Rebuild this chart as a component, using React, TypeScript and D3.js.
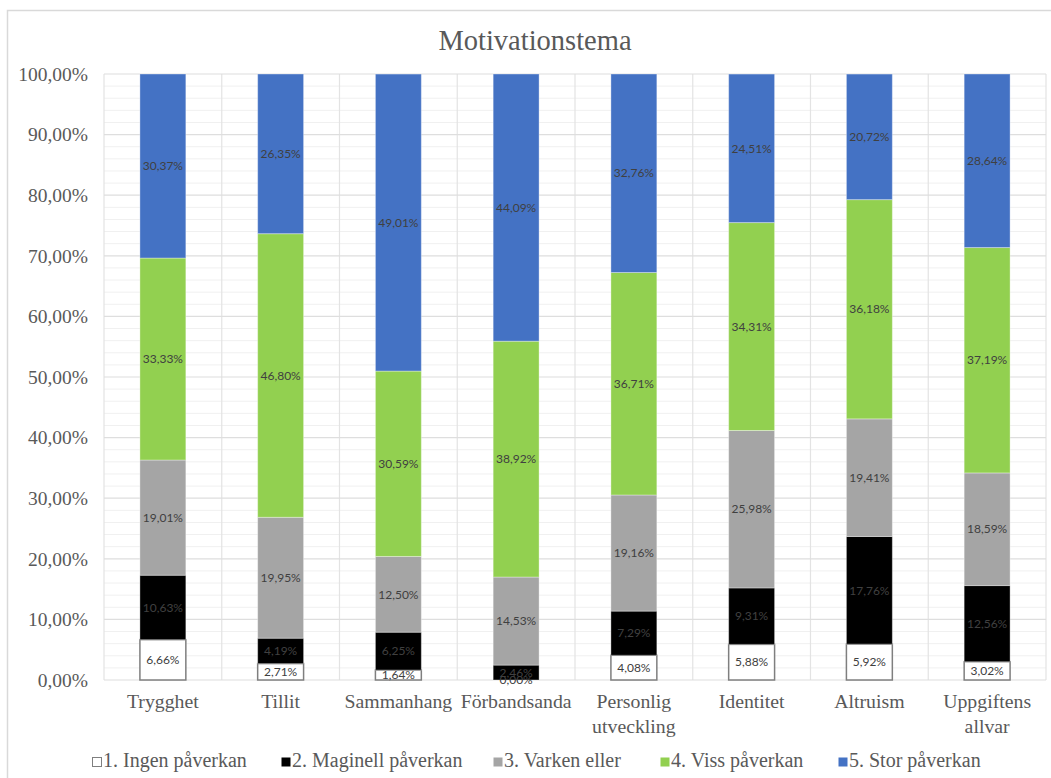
import React from "react";
import * as d3 from "d3";

const categories: string[][] = [
  ["Trygghet"],
  ["Tillit"],
  ["Sammanhang"],
  ["Förbandsanda"],
  ["Personlig", "utveckling"],
  ["Identitet"],
  ["Altruism"],
  ["Uppgiftens", "allvar"],
];

const seriesNames = [
  "1. Ingen påverkan",
  "2. Maginell påverkan",
  "3. Varken eller",
  "4. Viss påverkan",
  "5. Stor påverkan",
];

const ingen = [6.66, 2.71, 1.64, 0.0, 4.08, 5.88, 5.92, 3.02];
const maginell = [10.63, 4.19, 6.25, 2.46, 7.29, 9.31, 17.76, 12.56];
const varken = [19.01, 19.95, 12.5, 14.53, 19.16, 25.98, 19.41, 18.59];
const viss = [33.33, 46.8, 30.59, 38.92, 36.71, 34.31, 36.18, 37.19];
const stor = [30.37, 26.35, 49.01, 44.09, 32.76, 24.51, 20.72, 28.64];

const yTicks = [0, 10, 20, 30, 40, 50, 60, 70, 80, 90, 100];

const colors = ["#ffffff", "#000000", "#a5a5a5", "#92d050", "#4472c4"];

const W = 1051;
const H = 778;
const plot = { left: 104, right: 1046, top: 74, bottom: 680 };

const fmt = (v: number) => v.toFixed(2).replace(".", ",") + "%";

const serif = "'Liberation Serif', Tinos, 'Times New Roman', 'DejaVu Serif', serif";
const sans = "Lato, 'Open Sans', sans-serif";

export default function App() {
  const seriesValues = [ingen, maginell, varken, viss, stor];
  const keys = categories.map((c) => c.join(" "));

  const rows = keys.map((k, i) => {
    const r: Record<string, number | string> = { cat: k };
    seriesNames.forEach((s, j) => (r[s] = seriesValues[j][i]));
    return r;
  });

  const stacked = d3.stack<Record<string, number | string>>().keys(seriesNames)(rows as any);

  const x = d3.scaleBand().domain(keys).range([plot.left, plot.right]).paddingInner(0.61).paddingOuter(0.305);
  const y = d3.scaleLinear().domain([0, 100]).range([plot.bottom, plot.top]);
  const band = (plot.right - plot.left) / keys.length;

  const minorTicks = d3.range(0, 101, 2).filter((t) => t % 10 !== 0);

  // legend marker x positions
  const legendX = [92, 281, 493, 660, 838];

  const serifStyle = { fontFamily: serif };

  return (
    <svg
      width={W}
      height={H}
      style={{ position: "absolute", left: 0, top: 0, background: "#fff" }}
    >
      <rect x={7.5} y={10.5} width={W + 10} height={H + 10} fill="#fff" stroke="#d9d9d9" strokeWidth={1.5} />

      <text x={535} y={50} textAnchor="middle" style={serifStyle} fontSize={28.5} fill="#595959">
        Motivationstema
      </text>

      {/* minor gridlines */}
      {minorTicks.map((t) => (
        <line key={"m" + t} x1={plot.left} x2={plot.right} y1={y(t)} y2={y(t)} stroke="#f0f0f0" strokeWidth={1} />
      ))}
      {/* vertical category gridlines */}
      {d3.range(keys.length + 1).map((i) => (
        <line
          key={"v" + i}
          x1={plot.left + i * band}
          x2={plot.left + i * band}
          y1={plot.top}
          y2={plot.bottom}
          stroke="#e3e3e3"
          strokeWidth={1.2}
        />
      ))}
      {/* major gridlines */}
      {yTicks.map((t) => (
        <line key={"g" + t} x1={plot.left} x2={plot.right} y1={y(t)} y2={y(t)} stroke="#dedede" strokeWidth={1.2} />
      ))}

      {yTicks.map((t) => (
        <text
          key={"yt" + t}
          x={88}
          y={y(t)}
          dy="0.35em"
          textAnchor="end"
          style={serifStyle}
          fontSize={19.5}
          fill="#595959"
        >
          {t.toFixed(2).replace(".", ",")}%
        </text>
      ))}

      {/* stacked bars */}
      {stacked.map((layer, si) => (
        <g key={"s" + si}>
          {layer.map((d, i) => (
            <rect
              key={i}
              x={x(keys[i])!}
              y={y(d[1])}
              width={x.bandwidth()}
              height={Math.max(0, y(d[0]) - y(d[1]))}
              fill={colors[si]}
              stroke={si === 0 ? "#7f7f7f" : "rgba(255,255,255,0.35)"}
              strokeWidth={si === 0 ? 1.5 : 1}
            />
          ))}
        </g>
      ))}

      {/* data labels */}
      {stacked.map((layer, si) => (
        <g key={"l" + si}>
          {layer.map((d, i) => (
            <text
              key={i}
              x={x(keys[i])! + x.bandwidth() / 2}
              y={(y(d[0]) + y(d[1])) / 2}
              dy="0.35em"
              textAnchor="middle"
              fontFamily={sans}
              fontSize={12}
              fill="#404040"
            >
              {fmt(seriesValues[si][i])}
            </text>
          ))}
        </g>
      ))}

      {/* category labels */}
      {categories.map((c, i) => (
        <text
          key={"c" + i}
          x={x(keys[i])! + x.bandwidth() / 2}
          y={708}
          textAnchor="middle"
          style={serifStyle}
          fontSize={19.8}
          fill="#595959"
        >
          {c.map((line, li) => (
            <tspan key={li} x={x(keys[i])! + x.bandwidth() / 2} dy={li === 0 ? 0 : 25}>
              {line}
            </tspan>
          ))}
        </text>
      ))}

      {/* legend */}
      {seriesNames.map((s, i) => (
        <g key={"lg" + i}>
          <rect
            x={legendX[i] + 0.5}
            y={757.5}
            width={9}
            height={9}
            fill={colors[i]}
            stroke={i === 0 ? "#7f7f7f" : "none"}
            strokeWidth={1}
          />
          <text x={legendX[i] + 11} y={767} style={serifStyle} fontSize={20} fill="#595959">
            {s}
          </text>
        </g>
      ))}
    </svg>
  );
}
